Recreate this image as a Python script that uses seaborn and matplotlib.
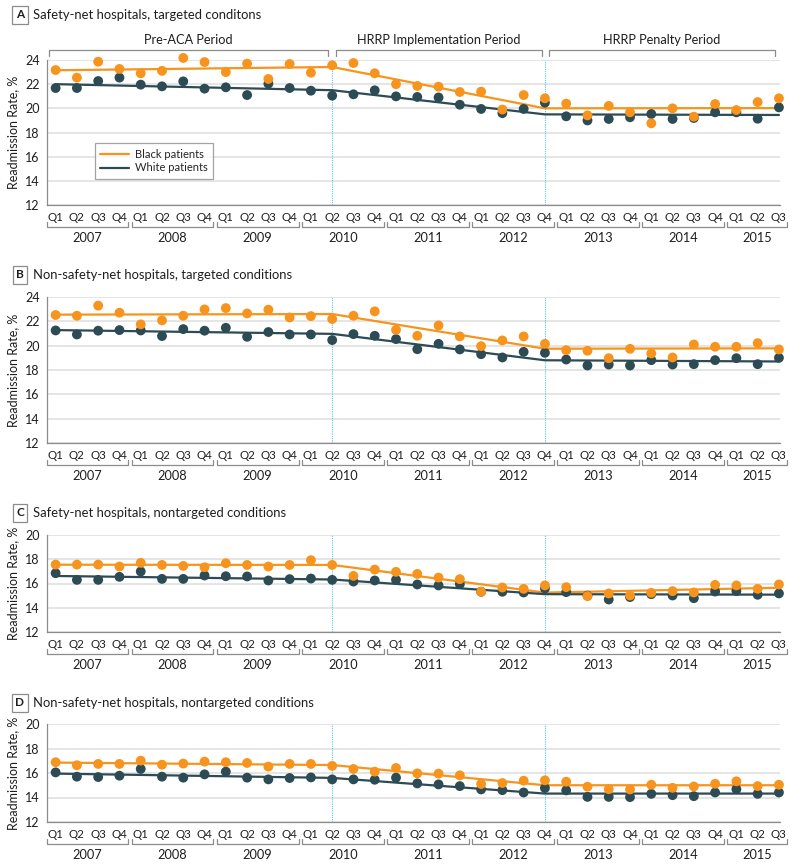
import pandas as pd
import matplotlib.pyplot as plt
import seaborn as sns

# quarter / year axis labels (Q1 2007 .. Q3 2015)
quarters = ['Q1', 'Q2', 'Q3', 'Q4'] * 8 + ['Q1', 'Q2', 'Q3']
years = ['2007', '2008', '2009', '2010', '2011', '2012', '2013', '2014', '2015']
groups = ['Black patients', 'White patients']
letters = ['A', 'B', 'C', 'D']
titles = ['Safety-net hospitals, targeted conditons',
          'Non-safety-net hospitals, targeted conditions',
          'Safety-net hospitals, nontargeted conditions',
          'Non-safety-net hospitals, nontargeted conditions']
periods = ['Pre-ACA Period', 'HRRP Implementation Period', 'HRRP Penalty Period']

# quarterly readmission rates, %
a_black = [23.17, 22.54, 23.86, 23.26, 22.90, 23.10, 24.17, 23.83, 23.00, 23.70, 22.43, 23.67,
           22.95, 23.56, 23.75, 22.90, 22.00, 21.85, 21.79, 21.35, 21.38, 19.90, 21.10, 20.83,
           20.39, 19.42, 20.20, 19.67, 18.76, 20.00, 19.31, 20.36, 19.86, 20.52, 20.83]
a_white = [21.68, 21.68, 22.26, 22.54, 21.96, 21.82, 22.23, 21.63, 21.74, 21.10, 22.04, 21.68,
           21.46, 21.05, 21.16, 21.49, 20.99, 20.94, 20.90, 20.30, 19.95, 19.60, 19.95, 20.47,
           19.34, 19.00, 19.12, 19.26, 19.53, 19.12, 19.20, 19.67, 19.67, 19.14, 20.08]
b_black = [22.52, 22.46, 23.29, 22.71, 21.75, 22.08, 22.46, 22.98, 23.09, 22.65, 22.96, 22.32,
           22.43, 22.19, 22.46, 22.82, 21.30, 20.81, 21.66, 20.76, 19.96, 20.43, 20.76, 20.15,
           19.63, 19.58, 18.97, 19.74, 19.36, 19.03, 20.10, 19.91, 19.91, 20.21, 19.69]
b_white = [21.25, 20.92, 21.23, 21.28, 21.25, 20.79, 21.36, 21.23, 21.47, 20.73, 21.12, 20.92,
           20.92, 20.46, 20.95, 20.81, 20.54, 19.71, 20.15, 19.69, 19.30, 19.03, 19.49, 19.41,
           18.86, 18.37, 18.45, 18.37, 18.81, 18.45, 18.48, 18.81, 18.97, 18.48, 19.00]
c_black = [17.56, 17.56, 17.56, 17.40, 17.70, 17.53, 17.45, 17.34, 17.67, 17.53, 17.40, 17.53,
           17.92, 17.53, 16.63, 17.15, 16.96, 16.79, 16.49, 16.36, 15.32, 15.67, 15.56, 15.84,
           15.70, 14.96, 15.18, 15.01, 15.23, 15.37, 15.26, 15.89, 15.84, 15.56, 15.92]
c_white = [16.85, 16.30, 16.30, 16.55, 16.99, 16.38, 16.38, 16.66, 16.60, 16.58, 16.25, 16.36,
           16.41, 16.30, 16.16, 16.25, 16.30, 15.92, 15.84, 15.95, 15.32, 15.32, 15.26, 15.59,
           15.29, 15.00, 14.68, 14.88, 15.12, 15.01, 14.79, 15.34, 15.37, 15.07, 15.18]
d_black = [16.88, 16.63, 16.74, 16.74, 17.01, 16.68, 16.77, 16.93, 16.88, 16.82, 16.52, 16.74,
           16.74, 16.58, 16.33, 16.11, 16.41, 15.97, 15.95, 15.81, 15.10, 15.18, 15.37, 15.40,
           15.29, 14.88, 14.68, 14.66, 15.04, 14.79, 14.90, 15.12, 15.32, 14.93, 15.04]
d_white = [16.05, 15.70, 15.67, 15.78, 16.33, 15.70, 15.62, 15.89, 16.11, 15.62, 15.48, 15.59,
           15.64, 15.48, 15.48, 15.45, 15.62, 15.15, 15.07, 14.93, 14.66, 14.60, 14.41, 14.77,
           14.58, 14.05, 14.05, 14.03, 14.30, 14.19, 14.11, 14.41, 14.68, 14.30, 14.41]

# segmented-regression fit, values at Q1 2007, Q2 2010, Q4 2012, Q3 2015
fit_idx = [0, 13, 23, 34]
a_black_fit = [23.15, 23.42, 20.00, 20.02]
a_white_fit = [22.00, 21.50, 19.50, 19.45]
b_black_fit = [22.55, 22.60, 19.75, 19.78]
b_white_fit = [21.28, 20.97, 18.80, 18.70]
c_black_fit = [17.55, 17.53, 15.25, 15.65]
c_white_fit = [16.62, 16.33, 15.12, 15.08]
d_black_fit = [16.85, 16.65, 15.00, 15.00]
d_white_fit = [15.95, 15.60, 14.32, 14.32]

panels = [(a_black, a_white, a_black_fit, a_white_fit, (12, 24)),
          (b_black, b_white, b_black_fit, b_white_fit, (12, 24)),
          (c_black, c_white, c_black_fit, c_white_fit, (12, 20)),
          (d_black, d_white, d_black_fit, d_white_fit, (12, 20))]

sns.set_theme(style='white')
plt.rcParams['font.family'] = ['Lato', 'DejaVu Sans']

ORANGE = '#f7941d'
DARK = '#2c4b54'
palette = {'Black patients': ORANGE, 'White patients': DARK}
GRAY = '#8c8c8c'
TXT = '#1e1e1e'

W, H = 800, 865
fig = plt.figure(figsize=(W / 100, H / 100), dpi=100)

# axes boxes in pixels: (top, bottom)
boxes = [(60, 205), (297, 443), (535, 632), (724, 822)]
title_y = [15, 275, 513, 703]
left_px, right_px = 46.7, 780
xlim = (-0.42, 34.05)

for k, (blk, wht, bfit, wfit, ylim) in enumerate(panels):
    top, bot = boxes[k]
    ax = fig.add_axes([left_px / W, 1 - bot / H, (right_px - left_px) / W, (bot - top) / H])
    hpx = bot - top

    pts = pd.DataFrame({
        'idx': list(range(len(wht))) + list(range(len(blk))),
        'rate': wht + blk,
        'group': ['White patients'] * len(wht) + ['Black patients'] * len(blk),
    })
    fit = pd.DataFrame({
        'idx': fit_idx * 2,
        'rate': bfit + wfit,
        'group': ['Black patients'] * 4 + ['White patients'] * 4,
    })

    # vertical dotted markers for policy dates
    for xv in (13, 23):
        ax.axvline(xv, color='#56c5f0', lw=0.8, ls=(0, (1, 1)), zorder=1)

    sns.lineplot(data=fit, x='idx', y='rate', hue='group', palette=palette,
                 hue_order=groups, lw=1.6, ax=ax, zorder=2, legend=(k == 0))
    sns.scatterplot(data=pts, x='idx', y='rate', hue='group', palette=palette,
                    s=50, edgecolor='none', linewidth=0, ax=ax, zorder=3, legend=False,
                    clip_on=False)

    ax.set_xlim(*xlim)
    ax.set_ylim(*ylim)
    ax.set_yticks(range(ylim[0], ylim[1] + 1, 2))
    ax.yaxis.grid(True, color='#e3e3e3', lw=1.3)
    ax.set_axisbelow(True)
    for s in ('top', 'right'):
        ax.spines[s].set_visible(False)
    for s in ('left', 'bottom'):
        ax.spines[s].set_color(GRAY)
        ax.spines[s].set_linewidth(0.9)
    ax.set_xticks(range(len(quarters)))
    ax.set_xticklabels(quarters)
    ax.tick_params(axis='x', length=3, width=0.8, color=GRAY, pad=2, labelsize=8.3, labelcolor=TXT)
    ax.tick_params(axis='y', length=3, width=0.8, color=GRAY, pad=2, labelsize=9, labelcolor=TXT)
    ax.set_xlabel('')
    ax.set_ylabel('Readmission Rate, %', fontsize=9, color=TXT, labelpad=4)

    # year brackets under quarter labels
    tr = ax.get_xaxis_transform()
    yb, ye = -22 / hpx, -17 / hpx
    for i, yr in enumerate(years):
        x0 = max(4 * i - 0.5 + 0.08, xlim[0])
        x1 = min(4 * i + 3.5 - 0.08, 34.4)
        ax.plot([x0, x0, x1, x1], [ye, yb, yb, ye], transform=tr, color=GRAY,
                lw=0.9, clip_on=False)
        ax.text((x0 + x1) / 2, -33 / hpx, yr, transform=tr, ha='center', va='center',
                fontsize=9.2, color=TXT)

    # period brackets over panel A
    if k == 0:
        spans = [(-0.31, 12.8), (13.17, 22.84), (23.18, 33.8)]
        for (x0, x1), lab in zip(spans, periods):
            ax.plot([x0, x0, x1, x1], [1 + 4.5 / hpx, 1 + 10.5 / hpx, 1 + 10.5 / hpx, 1 + 4.5 / hpx],
                    transform=tr, color=GRAY, lw=0.9, clip_on=False)
            ax.text((x0 + x1) / 2, 1 + 20 / hpx, lab, transform=tr, ha='center', va='center',
                    fontsize=9.2, color=TXT)
        leg = ax.legend(loc='upper left', bbox_to_anchor=(0.0577, 0.465), frameon=True,
                        fancybox=False, edgecolor=GRAY, fontsize=8, handlelength=2.6,
                        handletextpad=0.5, borderpad=0.5, labelspacing=0.25, title=None)
        leg.get_frame().set_linewidth(0.9)

    # panel letter box + title
    fig.text(20 / W, 1 - title_y[k] / H, letters[k], ha='center', va='center', fontsize=8.5,
             fontweight='bold', color=TXT,
             bbox=dict(boxstyle='square,pad=0.3', fc='white', ec=GRAY, lw=0.9))
    fig.text(33 / W, 1 - title_y[k] / H, titles[k], ha='left', va='center', fontsize=9.4,
             color=TXT)

fig.savefig('out.png', dpi=100, facecolor='white')
